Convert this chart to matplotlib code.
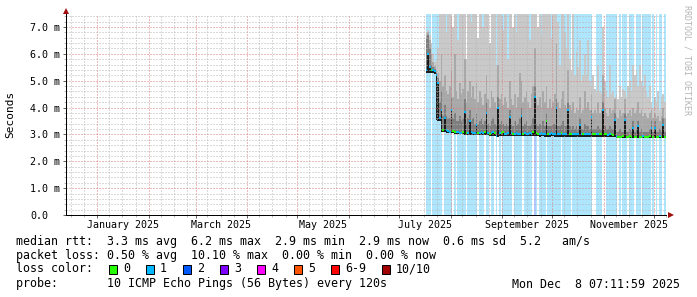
#!/usr/bin/python3
# smokeping style "last 360 days" latency graph

import matplotlib
matplotlib.use("Agg")
import matplotlib.pyplot as plt
import matplotlib.dates as mdates
from matplotlib.patches import Rectangle
from matplotlib.ticker import MultipleLocator, NullFormatter
import numpy as np
from datetime import datetime, timedelta

plt.rcParams['font.family'] = ['DejaVu Sans Mono']

W, H = 697, 297

t_end = datetime(2025, 12, 8, 7, 11, 59)
t_start = t_end - timedelta(days=360)
first_day = datetime(2025, 7, 17)   # first day with data

# daily values in ms, one entry per day from first_day on
smoke_lo = [
	5.30, 5.30, 5.28, 5.28, 5.28, 5.25, 3.55, 3.50, 3.50, 3.10, 3.08, 3.08,
	3.07, 3.06, 3.05, 3.05, 3.04, 3.03, 3.02, 3.02, 3.00, 3.00, 3.00, 2.99,
	2.98, 2.98, 2.98, 2.98, 2.97, 2.97, 2.97, 2.97, 2.97, 2.97, 2.96, 2.96,
	2.96, 2.96, 2.95, 2.95, 2.95, 2.95, 2.90, 2.92, 2.95, 2.95, 2.95, 2.94,
	2.94, 2.94, 2.94, 2.94, 2.93, 2.93, 2.94, 2.93, 2.93, 2.93, 2.93, 2.94,
	2.94, 2.93, 2.93, 2.93, 2.93, 2.93, 2.93, 2.93, 2.92, 2.93, 2.93, 2.92,
	2.92, 2.92, 2.92, 2.93, 2.93, 2.92, 2.92, 2.92, 2.92, 2.92, 2.92, 2.92,
	2.92, 2.92, 2.92, 2.92, 2.92, 2.91, 2.92, 2.92, 2.92, 2.91, 2.92, 2.92,
	2.92, 2.91, 2.92, 2.92, 2.92, 2.92, 2.91, 2.92, 2.92, 2.91, 2.92, 2.92,
	2.92, 2.90, 2.92, 2.91, 2.90, 2.90, 2.87, 2.85, 2.85, 2.85, 2.85, 2.85,
	2.85, 2.85, 2.86, 2.85, 2.85, 2.85, 2.86, 2.85, 2.85, 2.85, 2.86, 2.85,
	2.85, 2.85, 2.86, 2.85, 2.85, 2.85, 2.86, 2.85, 2.85, 2.86, 2.85, 2.85,
]
median_rtt = [
	5.40, 6.00, 5.50, 5.40, 5.40, 5.35, 5.20, 4.90, 3.60, 3.90, 3.16, 3.60,
	3.15, 3.12, 3.10, 3.90, 3.12, 3.10, 3.08, 3.10, 3.05, 3.05, 3.10, 3.85,
	3.05, 3.05, 3.50, 3.08, 3.05, 3.05, 3.35, 3.05, 3.05, 3.10, 3.05, 3.08,
	3.80, 3.05, 3.02, 3.05, 3.10, 3.05, 2.95, 4.00, 3.05, 3.05, 3.08, 3.02,
	3.02, 3.05, 3.66, 3.05, 3.00, 3.02, 3.05, 3.00, 3.02, 3.70, 3.02, 3.05,
	3.02, 3.00, 3.05, 3.02, 3.08, 4.40, 3.05, 3.02, 3.00, 3.05, 3.02, 3.00,
	3.50, 3.02, 3.00, 3.05, 3.02, 3.00, 3.97, 3.02, 3.00, 3.05, 3.02, 3.00,
	3.02, 3.90, 3.00, 3.00, 3.02, 3.00, 3.00, 3.02, 3.35, 3.00, 3.00, 3.02,
	3.00, 3.00, 3.02, 3.66, 3.00, 3.00, 3.00, 3.02, 3.00, 3.00, 3.90, 3.00,
	3.00, 2.98, 3.00, 3.00, 2.98, 3.53, 2.95, 2.92, 2.92, 2.92, 2.93, 3.53,
	2.92, 2.92, 2.93, 2.92, 3.23, 2.92, 2.92, 3.30, 2.92, 2.92, 2.93, 2.92,
	2.92, 2.92, 2.93, 3.23, 2.92, 3.23, 2.92, 2.92, 2.93, 2.92, 3.35, 2.92,
]
smoke_core = [
	6.60, 6.70, 6.20, 5.60, 5.50, 5.45, 5.30, 5.10, 4.20, 4.60, 3.70, 4.10,
	3.70, 3.60, 3.60, 4.40, 3.60, 3.80, 3.50, 3.50, 3.70, 3.50, 3.60, 4.30,
	3.40, 3.60, 3.90, 3.50, 3.60, 3.40, 3.80, 3.40, 3.50, 3.60, 3.40, 3.50,
	4.20, 3.40, 3.30, 3.50, 3.60, 3.40, 3.30, 4.40, 3.40, 3.50, 3.40, 3.30,
	3.40, 3.30, 3.90, 3.40, 3.30, 3.50, 3.30, 3.40, 3.60, 4.00, 3.30, 3.40,
	3.50, 3.30, 3.30, 3.40, 3.60, 4.80, 3.40, 3.30, 3.40, 3.30, 3.50, 3.30,
	3.80, 3.30, 3.30, 3.30, 3.40, 3.40, 4.30, 3.30, 3.30, 3.40, 3.50, 3.30,
	3.30, 4.20, 3.30, 3.20, 3.30, 3.20, 3.30, 3.20, 3.60, 3.20, 3.20, 3.40,
	3.30, 3.30, 3.20, 3.90, 3.20, 3.20, 3.20, 3.30, 3.20, 3.20, 4.20, 3.30,
	3.20, 3.20, 3.30, 3.20, 3.20, 3.80, 3.10, 3.10, 3.20, 3.10, 3.10, 3.80,
	3.10, 3.10, 3.20, 3.10, 3.50, 3.10, 3.20, 3.50, 3.10, 3.20, 3.10, 3.10,
	3.10, 3.10, 3.20, 3.50, 3.10, 3.50, 3.10, 3.10, 3.20, 3.10, 3.60, 3.10,
]
smoke_upper = [
	6.70, 6.80, 6.50, 6.00, 5.70, 5.55, 5.40, 5.30, 5.00, 6.00, 4.80, 5.20,
	4.60, 4.50, 4.80, 5.40, 4.40, 6.00, 4.60, 4.30, 4.90, 4.50, 4.70, 5.80,
	4.20, 4.60, 5.00, 4.40, 4.80, 4.30, 4.90, 4.20, 4.60, 4.40, 4.10, 4.50,
	5.20, 4.30, 4.00, 4.60, 4.40, 4.20, 4.00, 5.60, 4.30, 4.50, 4.10, 4.40,
	4.20, 4.00, 5.00, 4.30, 4.10, 4.50, 4.00, 4.40, 5.30, 5.00, 4.20, 4.40,
	4.60, 4.20, 4.00, 4.50, 4.80, 6.20, 4.30, 4.10, 4.40, 4.00, 4.60, 4.20,
	4.80, 4.00, 4.30, 4.00, 4.20, 4.50, 6.40, 4.20, 4.00, 4.30, 4.60, 4.10,
	4.00, 5.40, 4.10, 3.90, 4.20, 3.80, 4.00, 3.90, 4.40, 3.80, 3.90, 4.60,
	4.00, 4.20, 3.90, 4.50, 3.80, 3.90, 3.80, 4.20, 3.80, 3.90, 5.20, 4.00,
	3.80, 3.70, 4.00, 3.80, 3.90, 4.30, 3.70, 3.60, 3.90, 3.70, 3.80, 4.30,
	3.70, 3.80, 3.90, 3.70, 4.00, 3.80, 3.90, 4.20, 3.80, 3.90, 3.70, 3.80,
	3.70, 3.60, 3.80, 3.90, 3.60, 3.80, 3.60, 3.70, 3.50, 3.70, 4.00, 3.60,
]
smoke_top = [
	6.80, 6.90, 6.70, 6.40, 6.00, 5.70, 5.80, 6.20, 9.00, 12.0, 8.50, 10.0,
	6.80, 9.50, 11.0, 8.00, 7.00, 12.0, 9.00, 6.50, 10.0, 8.50, 11.0, 9.00,
	5.80, 10.0, 9.50, 7.20, 11.0, 8.00, 9.00, 6.60, 10.5, 9.00, 7.00, 11.0,
	10.0, 8.00, 6.40, 9.50, 10.0, 7.50, 5.60, 11.0, 8.50, 9.00, 6.90, 10.0,
	8.00, 5.80, 10.5, 9.00, 7.00, 8.50, 6.80, 10.0, 9.50, 11.0, 7.80, 9.00,
	10.0, 8.50, 6.50, 9.00, 10.0, 12.0, 8.00, 7.00, 9.50, 6.70, 10.0, 8.80,
	9.00, 7.50, 10.0, 6.60, 8.00, 9.00, 11.0, 7.20, 5.60, 8.00, 9.50, 6.80,
	6.20, 8.50, 5.80, 5.40, 7.60, 5.20, 6.10, 5.50, 6.50, 5.00, 5.20, 6.00,
	5.20, 6.50, 5.00, 4.80, 5.20, 4.70, 4.60, 5.60, 4.60, 4.50, 7.00, 5.00,
	4.60, 4.40, 5.60, 4.50, 4.60, 4.40, 4.50, 4.30, 4.80, 4.40, 4.70, 4.60,
	4.40, 4.80, 5.00, 4.60, 5.60, 5.20, 5.40, 4.80, 5.60, 5.00, 4.80, 5.20,
	4.60, 4.40, 4.80, 4.20, 4.00, 4.40, 4.20, 4.60, 3.90, 4.40, 4.50, 4.20,
]
# loss class per day for the background bars (0 = no loss)
loss_bg_class = [
	1,1,1,0,1,1,1,1,1,1,0,1,
	1,1,1,1,0,1,0,1,1,1,1,1,
	0,1,1,1,1,1,1,0,1,1,1,0,
	1,1,0,1,1,0,1,0,1,0,1,1,
	1,1,1,1,0,1,1,1,1,1,0,1,
	1,1,1,1,0,2,1,0,1,1,1,1,
	0,1,1,1,1,1,1,1,1,0,1,1,
	1,1,1,0,1,1,1,1,1,1,1,1,
	1,1,1,1,0,0,1,1,1,1,0,0,
	1,1,1,1,1,1,1,0,1,0,1,1,
	1,0,1,1,1,0,1,1,1,0,1,1,
	1,1,1,0,1,0,1,0,1,1,0,1,
]
# loss class per day used to colour the median line
loss_med_class = [
	1,1,1,0,1,1,1,1,1,1,0,1,
	1,1,1,1,0,0,1,1,1,1,0,1,
	0,1,1,1,1,1,1,0,1,1,1,0,
	1,1,0,1,1,0,1,1,1,0,0,1,
	1,1,1,1,0,1,1,1,1,1,0,1,
	1,1,1,1,0,1,0,0,1,1,1,1,
	0,0,1,1,1,1,1,1,1,0,1,1,
	1,1,0,0,1,1,1,1,1,1,0,1,
	1,1,1,1,0,0,1,1,0,0,1,0,
	0,1,1,0,0,1,1,0,0,0,0,1,
	0,0,0,0,1,0,0,1,0,0,1,0,
	0,0,0,1,0,1,0,0,1,0,1,0,
]

loss_colors = ['#26ff00', '#00b8ff', '#0059ff', '#7e00ff', '#ff00ff', '#ff5500', '#ff0000', '#a10000']
loss_labels = ['0', '1', '2', '3', '4', '5', '6-9', '10/10']
loss_bg_colors = {1: '#aee6fd', 2: '#b0c8ff'}

label_months = [(2025, 1, 'January 2025'), (2025, 3, 'March 2025'), (2025, 5, 'May 2025'),
	(2025, 7, 'July 2025'), (2025, 9, 'September 2025'), (2025, 11, 'November 2025')]

stats_rtt = 'median rtt:  3.3 ms avg  6.2 ms max  2.9 ms min  2.9 ms now  0.6 ms sd  5.2   am/s'
stats_loss = 'packet loss: 0.50 % avg  10.10 % max  0.00 % min  0.00 % now'
probe_txt = 'probe:       10 ICMP Echo Pings (56 Bytes) every 120s'
stamp_txt = 'Mon Dec  8 07:11:59 2025'

fig = plt.figure(figsize=(W / 100, H / 100), dpi=100)
fig.patch.set_facecolor('white')
ax = fig.add_axes([66 / W, (H - 215) / H, 600 / W, 201.5 / H])

n = len(median_rtt)
xe = mdates.date2num(first_day) + np.arange(n + 1)

def ext(v):
	v = np.asarray(v, dtype=float)
	return np.append(v, v[-1])

# loss background, merged into runs of equal class
i = 0
while i < n:
	j = i
	while j + 1 < n and loss_bg_class[j + 1] == loss_bg_class[i]:
		j += 1
	if loss_bg_class[i] > 0:
		ax.axvspan(xe[i], xe[j + 1], color=loss_bg_colors[loss_bg_class[i]], lw=0, zorder=0.5)
	i = j + 1

# smoke
lo = ext(smoke_lo)
ax.fill_between(xe, lo, ext(smoke_top), step='post', color='#c9c9c9', lw=0, zorder=1.0)
ax.fill_between(xe, lo, ext(smoke_upper), step='post', color='#a8a8a8', lw=0, zorder=1.1)
ax.fill_between(xe, lo, ext(smoke_core), step='post', color='#7e7e7e', lw=0, zorder=1.2)
ax.fill_between(xe, lo, ext(median_rtt), step='post', color='#1c1c1c', lw=0, zorder=1.3)

# median, coloured by loss
ax.hlines(median_rtt, xe[:-1], xe[1:], colors=[loss_colors[k] for k in loss_med_class],
	lw=1.5, zorder=3)

ax.set_xlim(mdates.date2num(t_start), mdates.date2num(t_end))
ax.set_ylim(0, 7.5)

# grid
ax.xaxis.set_major_locator(mdates.MonthLocator())
ax.xaxis.set_minor_locator(mdates.DayLocator(bymonthday=[8, 16, 24]))
ax.xaxis.set_major_formatter(NullFormatter())
yt = np.arange(0, 8, 1.0)
ax.set_yticks(yt)
ax.set_yticklabels(['0.0' if v == 0 else '%.1f m' % v for v in yt], ha='left', fontsize=7.2)
ax.yaxis.set_minor_locator(MultipleLocator(0.2))
ax.set_axisbelow(False)
ax.grid(True, which='minor', color='#b6b6b6', linestyle=(0, (1, 2)), linewidth=0.72)
ax.grid(True, which='major', color='#da7c7c', linestyle=(0, (1, 2)), linewidth=0.72)
ax.tick_params(which='major', direction='out', length=2.2, width=0.72, color='#666666')
ax.tick_params(which='minor', direction='out', length=1.5, width=0.72, color='#bbbbbb')
ax.tick_params(axis='y', which='major', pad=33 * 0.72)

for s in ['top', 'right']:
	ax.spines[s].set_visible(False)
for s in ['left', 'bottom']:
	ax.spines[s].set_linewidth(0.72)
	ax.spines[s].set_color('black')
	ax.spines[s].set_zorder(4)

# arrows at the axis ends
ax.plot([0], [1 + 3 / 201.5], marker='^', ms=4, color='#a01010', mew=0,
	transform=ax.transAxes, clip_on=False)
ax.plot([1 + 5 / 600], [0], marker='>', ms=4, color='#a01010', mew=0,
	transform=ax.transAxes, clip_on=False)

# month labels centred on the month
for yr, mo, lab in label_months:
	a = datetime(yr, mo, 1)
	b = datetime(yr + (mo == 12), mo % 12 + 1, 1)
	mid = a + (b - a) / 2
	ax.text(mdates.date2num(mid), -10 / 201.5, lab, transform=ax.get_xaxis_transform(),
		ha='center', va='center', fontsize=7.2)

fig.text(10 / W, 1 - 114 / H, 'Seconds', rotation=90, ha='center', va='center', fontsize=8)
fig.text(687 / W, 1 - 5 / H, 'RRDTOOL / TOBI OETIKER', rotation=270, ha='center', va='top',
	fontsize=6, color='#b4b4b4')

fs = 8.4
fig.text(16 / W, 1 - 241 / H, stats_rtt, va='center', fontsize=fs)
fig.text(16 / W, 1 - 255 / H, stats_loss, va='center', fontsize=fs)
fig.text(16 / W, 1 - 269 / H, 'loss color:', va='center', fontsize=fs)
fig.text(16 / W, 1 - 284 / H, probe_txt, va='center', fontsize=fs)
fig.text(680 / W, 1 - 284 / H, stamp_txt, ha='right', va='center', fontsize=fs)

# loss colour legend boxes
bx = 109
for col, lab in zip(loss_colors, loss_labels):
	fig.patches.append(Rectangle((bx / W, (H - 273.5) / H), 8 / W, 9 / H, transform=fig.transFigure,
		facecolor=col, edgecolor='black', lw=0.72))
	fig.text((bx + 14) / W, 1 - 269 / H, lab, va='center', fontsize=fs)
	bx += 13 + 7 * len(lab) + 17

fig.savefig('out.png', dpi=100)
